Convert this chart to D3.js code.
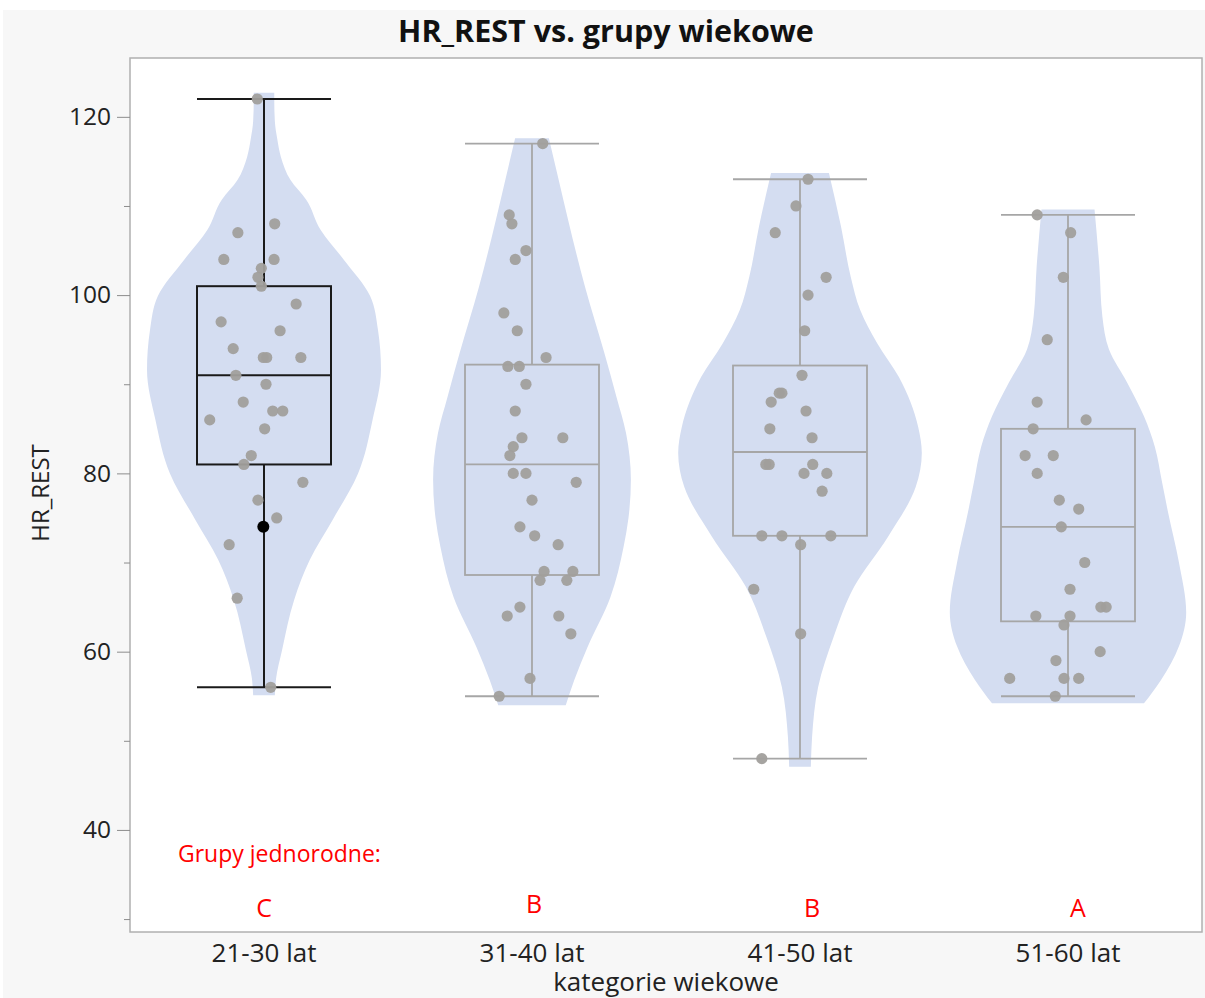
<!DOCTYPE html>
<html><head><meta charset="utf-8">
<script src="https://cdn.jsdelivr.net/npm/d3@7"></script>
<style>body{margin:0;background:#fff;}svg{display:block;}</style>
</head><body>
<svg id="chart" width="1205" height="998"></svg>
<script>
// ---------- data ----------
const categories = ["21-30 lat", "31-40 lat", "41-50 lat", "51-60 lat"];
const groupLetters = ["C", "B", "B", "A"];
const yTicksMajor = [40, 60, 80, 100, 120];
const yTicksMinor = [30, 50, 70, 90, 110];
const yDomain = [28.55, 126.6];

// box stats: [whiskerLow, q1, median, q3, whiskerHigh]
const boxStats = [
  [56, 81, 91, 101, 122],
  [55, 68.6, 81, 92.2, 117],
  [48, 73, 82.4, 92.1, 113],
  [55, 63.4, 74, 85, 109]
];

// points (HR_REST values) and jitter (fraction of box half-width)
const values1 = [122,108,107,104,104,103,102,101,99,97,96,94,93,93,93,91,90,88,87,87,86,85,82,81,79,77,75,72,66,56];
const jitter1 = [-.10,.16,-.39,-.60,.15,-.04,-.09,-.04,.48,-.64,.24,-.46,-.01,.04,.55,-.42,.03,-.31,.13,.28,-.81,.01,-.19,-.30,.58,-.09,.19,-.52,-.40,.10];
const values2 = [117,109,108,105,104,98,96,93,92,92,90,87,84,84,83,82,80,80,79,77,74,73,72,69,69,68,68,65,64,64,62,57,55];
const jitter2 = [.16,-.34,-.30,-.09,-.25,-.42,-.22,.21,-.36,-.19,-.09,-.25,-.15,.46,-.28,-.33,-.28,-.09,.66,0,-.18,.04,.39,.18,.61,.12,.52,-.18,-.37,.40,.58,-.03,-.49];
const values3 = [113,110,107,102,100,96,91,89,89,88,87,85,84,81,81,81,80,80,78,73,73,73,72,67,62,48];
const jitter3 = [.12,-.06,-.37,.39,.12,.07,.03,-.31,-.27,-.43,.09,-.45,.18,-.51,-.46,.19,.06,.40,.33,-.57,-.27,.46,.01,-.69,.01,-.57];
const values4 = [109,107,102,95,88,86,85,82,82,80,77,76,74,70,67,65,65,64,64,63,60,59,57,57,57,55];
const jitter4 = [-.46,.04,-.07,-.31,-.46,.27,-.52,-.64,-.22,-.46,-.13,.16,-.10,.25,.03,.49,.57,-.48,.03,-.06,.48,-.18,-.87,-.06,.16,-.19];
const selectedPoint = {group: 0, value: 74, jitter: -0.01};

// violin density profiles: [HR value, relative density]
const violin1 = [[122.7,.085],[121.9,.085],[119.5,.09],[117.5,.11],[115.5,.14],[112.9,.22],[110.7,.35],[107.3,.47],[104.0,.66],[99.9,.88],[96.1,.945],[91.6,.97],[86.0,.90],[80.0,.78],[74.8,.57],[70.3,.38],[65.8,.25],[60.2,.15],[57.0,.10],[55.1,.09]];
const violin2 = [[117.6,.14],[113.0,.22],[108.4,.30],[100.9,.44],[93.5,.60],[88.6,.70],[84.5,.78],[79.3,.82],[75.0,.80],[71.8,.76],[66.1,.65],[60.5,.46],[56.8,.35],[54.0,.28]];
const violin3 = [[113.7,.24],[107.7,.34],[102.1,.42],[98.3,.50],[94.6,.64],[90.8,.82],[85.2,.98],[82.3,1.01],[78.5,.96],[72.9,.73],[67.3,.45],[61.7,.28],[56.0,.15],[50.4,.10],[47.1,.09]];
const violin4 = [[109.6,.22],[103.2,.26],[97.6,.285],[93.9,.34],[90.2,.49],[86.4,.63],[83.0,.72],[79.0,.78],[75.6,.83],[70.0,.92],[64.4,.98],[60.6,.92],[56.8,.77],[54.2,.63]];

const allValues = [values1, values2, values3, values4];
const allJitter = [jitter1, jitter2, jitter3, jitter4];
const allViolins = [violin1, violin2, violin3, violin4];

// ---------- layout ----------
const W = 1205, H = 998;
const plot = {left: 130, right: 1202, top: 58, bottom: 932};
const FONT = "'Open Sans', 'Noto Sans', sans-serif";

const svg = d3.select("#chart");
svg.append("rect").attr("x", 3).attr("y", 10).attr("width", W - 3).attr("height", H - 10).attr("fill", "#f7f7f7");

const x = d3.scaleBand().domain(categories).range([plot.left, plot.right]).padding(0);
const y = d3.scaleLinear().domain(yDomain).range([plot.bottom, plot.top]);
const wScale = d3.scaleLinear().domain([0, 1]).range([0, x.bandwidth() * 0.45]);
const boxHalf = x.bandwidth() * 0.25;

svg.append("rect").attr("x", plot.left).attr("y", plot.top)
  .attr("width", plot.right - plot.left).attr("height", plot.bottom - plot.top)
  .attr("fill", "#fff").attr("stroke", "#b0b0b0").attr("stroke-width", 1.5);

// title
svg.append("text").attr("x", 606).attr("y", 42).attr("text-anchor", "middle")
  .attr("font-family", FONT).attr("font-weight", "bold").attr("font-size", 30.5)
  .attr("fill", "#111").text("HR_REST vs. grupy wiekowe");

// y axis
const yAxis = d3.axisLeft(y).tickValues(yTicksMajor).tickSize(13).tickPadding(6);
const gy = svg.append("g").attr("transform", `translate(${plot.left},0)`).call(yAxis);
gy.select(".domain").remove();
gy.selectAll(".tick line").attr("stroke", "#8c8c8c");
gy.selectAll(".tick text").attr("font-family", FONT).attr("font-size", 24.5).attr("fill", "#222");
const yAxisMinor = d3.axisLeft(y).tickValues(yTicksMinor).tickSize(6).tickFormat("");
const gym = svg.append("g").attr("transform", `translate(${plot.left},0)`).call(yAxisMinor);
gym.select(".domain").remove();
gym.selectAll(".tick line").attr("stroke", "#8c8c8c");

svg.append("text").attr("transform", `translate(49,493) rotate(-90)`)
  .attr("text-anchor", "middle").attr("font-family", FONT).attr("font-size", 24).attr("fill", "#222")
  .text("HR_REST");

// x axis
const xAxis = d3.axisBottom(x).tickSize(0);
const gx = svg.append("g").attr("transform", `translate(0,${plot.bottom})`).call(xAxis);
gx.select(".domain").remove();
gx.selectAll(".tick text").attr("y", 30).attr("dy", 0)
  .attr("font-family", FONT).attr("font-size", 26).attr("fill", "#222");
svg.append("text").attr("x", (plot.left + plot.right) / 2).attr("y", 991).attr("text-anchor", "middle")
  .attr("font-family", FONT).attr("font-size", 26).attr("fill", "#222").text("kategorie wiekowe");

// violins
const area = d3.area()
  .y(d => y(d.v))
  .x0(d => d.cx - wScale(d.w))
  .x1(d => d.cx + wScale(d.w))
  .curve(d3.curveMonotoneY);

allViolins.forEach((prof, i) => {
  const cx = x(categories[i]) + x.bandwidth() / 2;
  svg.append("path").datum(prof.map(p => ({v: p[0], w: p[1], cx})))
    .attr("d", area).attr("fill", "#d4ddf1");
});

// boxes
boxStats.forEach((s, i) => {
  const cx = x(categories[i]) + x.bandwidth() / 2;
  const col = i === 0 ? "#1a1a1a" : "#a6a6a6";
  const sw = i === 0 ? 2 : 1.8;
  const g = svg.append("g").attr("stroke", col).attr("stroke-width", sw).attr("fill", "none");
  g.append("line").attr("x1", cx).attr("x2", cx).attr("y1", y(s[0])).attr("y2", y(s[1]));
  g.append("line").attr("x1", cx).attr("x2", cx).attr("y1", y(s[3])).attr("y2", y(s[4]));
  g.append("line").attr("x1", cx - boxHalf).attr("x2", cx + boxHalf).attr("y1", y(s[0])).attr("y2", y(s[0]));
  g.append("line").attr("x1", cx - boxHalf).attr("x2", cx + boxHalf).attr("y1", y(s[4])).attr("y2", y(s[4]));
  g.append("rect").attr("x", cx - boxHalf).attr("y", y(s[3])).attr("width", 2 * boxHalf).attr("height", y(s[1]) - y(s[3]));
  g.append("line").attr("x1", cx - boxHalf).attr("x2", cx + boxHalf).attr("y1", y(s[2])).attr("y2", y(s[2]));
});

// points
allValues.forEach((vals, i) => {
  const cx = x(categories[i]) + x.bandwidth() / 2;
  svg.append("g").selectAll("circle").data(vals.map((v, k) => ({v, j: allJitter[i][k]})))
    .join("circle")
    .attr("cx", d => cx + d.j * boxHalf).attr("cy", d => y(d.v)).attr("r", 5.6)
    .attr("fill", "#a19f9c").attr("fill-opacity", 0.95);
});
{
  const cx = x(categories[selectedPoint.group]) + x.bandwidth() / 2;
  svg.append("circle").attr("cx", cx + selectedPoint.jitter * boxHalf).attr("cy", y(selectedPoint.value))
    .attr("r", 6).attr("fill", "#000");
}

// homogeneous groups annotation
svg.append("text").attr("x", 178).attr("y", 862).attr("font-family", FONT).attr("font-size", 23)
  .attr("fill", "#ff0000").text("Grupy jednorodne:");
const letterDy = [0, -4, 0, 0];
const letterDx = [0, 2, 12, 10];
groupLetters.forEach((L, i) => {
  svg.append("text").attr("x", x(categories[i]) + x.bandwidth() / 2 + letterDx[i]).attr("y", 917 + letterDy[i])
    .attr("text-anchor", "middle").attr("font-family", FONT).attr("font-size", 25)
    .attr("fill", "#ff0000").text(L);
});
</script>
</body></html>
